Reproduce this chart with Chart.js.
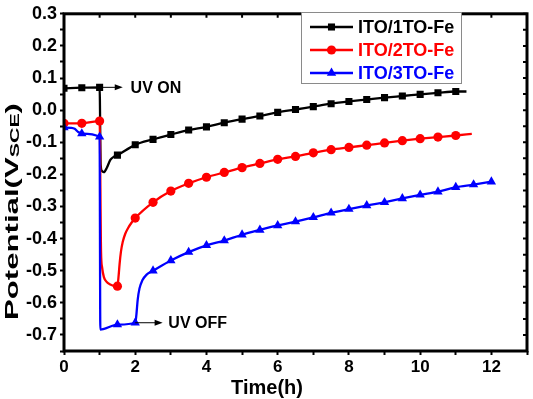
<!DOCTYPE html>
<html>
<head>
<meta charset="utf-8">
<script src="https://cdn.jsdelivr.net/npm/chart.js@4.4.1/dist/chart.umd.min.js"></script>
<style>
  html, body { margin: 0; padding: 0; background: #fff; }
  #wrap { width: 533px; height: 399px; }
</style>
</head>
<body>
<div id="wrap"><canvas id="potentialChart"></canvas></div>
<script>
// time (h) and potential (V vs SCE)
const timeITO1 = [0, 0.5, 1.0, 1.03, 1.07, 1.12, 1.2, 1.3, 1.4, 1.5, 2.0, 2.5, 3.0, 3.5, 4.0, 4.5, 5.0, 5.5, 6.0, 6.5, 7.0, 7.5, 8.0, 8.5, 9.0, 9.5, 10.0, 10.5, 11.0, 11.3];
const potITO1 = [0.068, 0.070, 0.071, -0.17, -0.19, -0.193, -0.18, -0.155, -0.145, -0.140, -0.108, -0.091, -0.076, -0.062, -0.052, -0.039, -0.028, -0.018, -0.007, 0.002, 0.011, 0.020, 0.027, 0.033, 0.039, 0.044, 0.049, 0.054, 0.058, 0.058];

const timeITO2 = [0, 0.5, 1.0, 1.04, 1.07, 1.12, 1.2, 1.3, 1.4, 1.5, 1.53, 1.56, 1.6, 1.65, 1.72, 1.8, 1.9, 2.0, 2.5, 3.0, 3.5, 4.0, 4.5, 5.0, 5.5, 6.0, 6.5, 7.0, 7.5, 8.0, 8.5, 9.0, 9.5, 10.0, 10.5, 11.0, 11.45];
const potITO2 = [-0.041, -0.041, -0.034, -0.44, -0.49, -0.52, -0.535, -0.543, -0.547, -0.548, -0.52, -0.48, -0.44, -0.41, -0.385, -0.367, -0.35, -0.336, -0.287, -0.252, -0.228, -0.209, -0.194, -0.179, -0.166, -0.153, -0.144, -0.133, -0.123, -0.116, -0.109, -0.102, -0.095, -0.089, -0.084, -0.079, -0.074];

const timeITO3 = [0, 0.2, 0.3, 0.4, 0.5, 1.0, 1.02, 1.1, 1.5, 2.0, 2.03, 2.07, 2.12, 2.2, 2.32, 2.5, 3.0, 3.5, 4.0, 4.5, 5.0, 5.5, 6.0, 6.5, 7.0, 7.5, 8.0, 8.5, 9.0, 9.5, 10.0, 10.5, 11.0, 11.5, 12.0];
const potITO3 = [-0.054, -0.055, -0.058, -0.068, -0.073, -0.083, -0.683, -0.682, -0.668, -0.662, -0.64, -0.59, -0.555, -0.53, -0.512, -0.500, -0.468, -0.442, -0.421, -0.406, -0.388, -0.373, -0.359, -0.347, -0.334, -0.320, -0.308, -0.297, -0.287, -0.275, -0.264, -0.254, -0.240, -0.232, -0.223];

const seriesNames = ['ITO/1TO-Fe', 'ITO/2TO-Fe', 'ITO/3TO-Fe'];
const seriesColors = ['#000000', '#ff0000', '#0000ff'];
const markerStyles = ['rect', 'circle', 'triangle'];
const markerSizes = [5, 4.6, 5.4];

const xTicksShown = [0, 2, 4, 6, 8, 10, 12];

const FONT = 'Arial, "Liberation Sans", sans-serif';

const toPoints = (t, v) => t.map((x, i) => ({ x: x, y: v[i] }));
const allTimes = [timeITO1, timeITO2, timeITO3];
const allPots = [potITO1, potITO2, potITO3];

// a marker every half hour, like the original plot
const markerAt = x => Math.abs(x * 2 - Math.round(x * 2)) < 1e-6;

const datasets = seriesNames.map((name, i) => ({
    label: name,
    data: toPoints(allTimes[i], allPots[i]),
    borderColor: seriesColors[i],
    backgroundColor: seriesColors[i],
    borderWidth: 2.3,
    pointStyle: markerStyles[i],
    pointRadius: ctx => markerAt(ctx.raw.x) ? markerSizes[i] : 0,
    pointBorderWidth: 0,
    cubicInterpolationMode: 'monotone',
    order: 2 - i, // last series on top, as in the original
    fill: false
}));

// frame, mirrored ticks, arrows, legend and axis titles
const decorPlugin = {
    id: 'decor',
    afterDraw(chart) {
        const { ctx, chartArea: a, scales } = chart;
        const xs = scales.x, ys = scales.y;
        ctx.save();

        // frame
        ctx.strokeStyle = '#000';
        ctx.lineWidth = 3;
        ctx.strokeRect(a.left, a.top, a.right - a.left, a.bottom - a.top);

        // inward ticks on top and right
        ctx.lineWidth = 2;
        ctx.beginPath();
        xs.ticks.forEach(t => {
            const px = xs.getPixelForValue(t.value);
            ctx.moveTo(px, a.top);
            ctx.lineTo(px, a.top + 4);
        });
        ys.ticks.forEach(t => {
            const py = ys.getPixelForValue(t.value);
            ctx.moveTo(a.right, py);
            ctx.lineTo(a.right - 4, py);
        });
        ctx.stroke();

        // UV ON / UV OFF arrows
        const arrow = (x0, y0, x1, label, tx) => {
            const p0 = xs.getPixelForValue(x0);
            const py = ys.getPixelForValue(y0);
            const p1 = xs.getPixelForValue(x1);
            ctx.strokeStyle = '#000';
            ctx.fillStyle = '#000';
            ctx.lineWidth = 1;
            ctx.beginPath();
            ctx.moveTo(p0, py);
            ctx.lineTo(p1 - 6, py);
            ctx.stroke();
            ctx.beginPath();
            ctx.moveTo(p1, py);
            ctx.lineTo(p1 - 8, py - 3);
            ctx.lineTo(p1 - 8, py + 3);
            ctx.closePath();
            ctx.fill();
            ctx.font = 'bold 16px ' + FONT;
            ctx.textAlign = 'left';
            ctx.textBaseline = 'middle';
            ctx.fillText(label, xs.getPixelForValue(tx), py + 1);
        };
        arrow(1.0, potITO1[2], 1.65, 'UV ON', 1.87);
        arrow(2.0, potITO3[9], 2.77, 'UV OFF', 2.93);

        // legend box
        const lx = 301, ly = 12, lw = 160, lh = 71;
        ctx.fillStyle = '#fff';
        ctx.fillRect(lx, ly, lw, lh);
        ctx.strokeStyle = '#8a8a8a';
        ctx.lineWidth = 1;
        ctx.strokeRect(lx + 0.5, ly + 0.5, lw, lh);
        chart.data.datasets.forEach((ds, i) => {
            const ry = 27 + i * 23;
            ctx.strokeStyle = ds.borderColor;
            ctx.lineWidth = 2.3;
            ctx.beginPath();
            ctx.moveTo(310, ry);
            ctx.lineTo(353, ry);
            ctx.stroke();
            ctx.fillStyle = ds.borderColor;
            Chart.helpers.drawPoint(ctx, {
                pointStyle: ds.pointStyle,
                radius: markerSizes[i],
                borderWidth: 0,
                rotation: 0
            }, 331.5, ry);
            ctx.font = 'bold 18px ' + FONT;
            ctx.textAlign = 'left';
            ctx.textBaseline = 'middle';
            ctx.fillText(ds.label, 358, ry + 1);
        });

        // x title
        ctx.fillStyle = '#000';
        ctx.font = 'bold 20px ' + FONT;
        ctx.textAlign = 'center';
        ctx.textBaseline = 'middle';
        ctx.fillText('Time(h)', 267, 388);

        // y title with subscript, stretched like the original
        ctx.save();
        ctx.translate(18, 211.5);
        ctx.rotate(-Math.PI / 2);
        ctx.textAlign = 'left';
        ctx.textBaseline = 'alphabetic';
        const big = 'bold 19px ' + FONT, small = 'bold 13px ' + FONT;
        ctx.font = big;
        const w1 = ctx.measureText('Potential(V').width;
        const w3 = ctx.measureText(')').width;
        ctx.font = small;
        const w2 = ctx.measureText('SCE').width;
        const total = w1 + w2 + w3;
        ctx.scale(217 / total, 1);
        let cx = -total / 2;
        ctx.font = big;
        ctx.fillText('Potential(V', cx, 0);
        cx += w1;
        ctx.font = small;
        ctx.fillText('SCE', cx, 1);
        cx += w2;
        ctx.font = big;
        ctx.fillText(')', cx, 0);
        ctx.restore();

        ctx.restore();
    }
};

new Chart(document.getElementById('potentialChart'), {
    type: 'line',
    data: { datasets: datasets },
    options: {
        responsive: true,
        maintainAspectRatio: false,
        animation: false,
        layout: { padding: { top: 10, right: 6, left: 0, bottom: 0 } },
        plugins: {
            legend: { display: false },
            tooltip: { enabled: false }
        },
        scales: {
            x: {
                type: 'linear',
                min: 0,
                max: 13,
                border: { display: false },
                grid: { drawOnChartArea: false, drawTicks: true, tickLength: 4, tickWidth: 2, tickColor: '#000' },
                ticks: {
                    stepSize: 1,
                    padding: 2,
                    color: '#000',
                    font: { family: FONT, size: 17, weight: 'bold' },
                    maxRotation: 0,
                    autoSkip: false,
                    callback: v => xTicksShown.includes(v) ? String(v) : ''
                },
                afterFit: s => { s.height = 48; }
            },
            y: {
                min: -0.75,
                max: 0.3,
                border: { display: false },
                grid: { drawOnChartArea: false, drawTicks: true, tickLength: 4, tickWidth: 2, tickColor: '#000' },
                ticks: {
                    stepSize: 0.05,
                    padding: 3,
                    color: '#000',
                    font: { family: FONT, size: 18, weight: 'bold' },
                    autoSkip: false,
                    callback: v => {
                        const k = Math.round(v * 100);
                        return k % 10 === 0 ? (Math.round(v * 10) / 10).toFixed(1) : '';
                    }
                },
                afterFit: s => { s.width = 64; }
            }
        }
    },
    plugins: [decorPlugin]
});
</script>
</body>
</html>
